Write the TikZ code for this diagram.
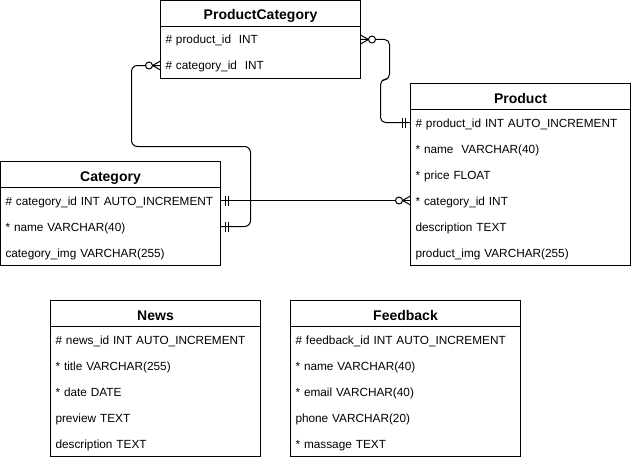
\documentclass[tikz,border=0pt]{standalone}
\usepackage{fontspec}
\setmainfont{Liberation Sans}
\usetikzlibrary{positioning}

\tikzset{
    entity/.style={draw, anchor=north west, minimum width=#1, minimum height=26pt,
        inner sep=0pt, outer sep=0pt, text height=13.5pt, text depth=0.5pt,
        font=\fontsize{14}{16}\selectfont\bfseries},
    attr/.style={text width=#1-10pt, minimum height=26pt, inner xsep=5pt, inner ysep=0pt,
        outer sep=0pt, text height=10.5pt, text depth=1.5pt, align=left,
        font=\fontsize{11.8}{14}\selectfont},
    mandone/.pic={\draw (5,-5) -- (5,5) (8,-5) -- (8,5);},
    zeromany/.pic={\draw (0,-4.5) -- (8,0) -- (0,4.5); \draw[fill=white] (11.5,0) circle[radius=3.5pt];}
}

\begin{document}
\begin{tikzpicture}[x=1pt, y=-1pt, line width=1pt]

\def\pcw{200pt}
\def\pw{220pt}
\def\cw{220pt}
\def\nw{210pt}
\def\fw{230pt}

\useasboundingbox (0,0) rectangle (631,460);

% ProductCategory
\node[entity=\pcw] (pc) at (160.5, 0.5) {ProductCategory};
\node[attr=\pcw, below=0pt of pc] (pc-product) {\#~product\_id\ \ INT};
\node[attr=\pcw, below=0pt of pc-product] (pc-category) {\#~category\_id\ \ INT};
\draw (pc.north west) rectangle (pc-category.south east);

% Product
\node[entity=\pw] (p) at (410.5, 83.5) {Product};
\node[attr=\pw, below=0pt of p] (p-id) {\#~product\_id~INT~AUTO\_INCREMENT};
\node[attr=\pw, below=0pt of p-id] (p-name) {*~name\ \ VARCHAR(40)};
\node[attr=\pw, below=0pt of p-name] (p-price) {*~price FLOAT};
\node[attr=\pw, below=0pt of p-price] (p-category) {*~category\_id INT};
\node[attr=\pw, below=0pt of p-category] (p-desc) {description TEXT};
\node[attr=\pw, below=0pt of p-desc] (p-img) {product\_img VARCHAR(255)};
\draw (p.north west) rectangle (p-img.south east);

% Category
\node[entity=\cw] (c) at (0.5, 161.5) {Category};
\node[attr=\cw, below=0pt of c] (c-id) {\#~category\_id~INT~AUTO\_INCREMENT};
\node[attr=\cw, below=0pt of c-id] (c-name) {*~name VARCHAR(40)};
\node[attr=\cw, below=0pt of c-name] (c-img) {category\_img VARCHAR(255)};
\draw (c.north west) rectangle (c-img.south east);

% News
\node[entity=\nw] (n) at (50.5, 300.5) {News};
\node[attr=\nw, below=0pt of n] (n-id) {\#~news\_id~INT~AUTO\_INCREMENT};
\node[attr=\nw, below=0pt of n-id] (n-title) {*~title VARCHAR(255)};
\node[attr=\nw, below=0pt of n-title] (n-date) {*~date DATE};
\node[attr=\nw, below=0pt of n-date] (n-preview) {preview TEXT};
\node[attr=\nw, below=0pt of n-preview] (n-desc) {description TEXT};
\draw (n.north west) rectangle (n-desc.south east);

% Feedback
\node[entity=\fw] (f) at (290.5, 300.5) {Feedback};
\node[attr=\fw, below=0pt of f] (f-id) {\#~feedback\_id~INT~AUTO\_INCREMENT};
\node[attr=\fw, below=0pt of f-id] (f-name) {*~name VARCHAR(40)};
\node[attr=\fw, below=0pt of f-name] (f-email) {*~email VARCHAR(40)};
\node[attr=\fw, below=0pt of f-email] (f-phone) {phone VARCHAR(20)};
\node[attr=\fw, below=0pt of f-phone] (f-massage) {*~massage TEXT};
\draw (f.north west) rectangle (f-massage.south east);

% relations
\draw[rounded corners=5pt] (pc-product.east) -- ++(29,0) -- ++(0,40) -- ++(-9,0) |- (p-id.west);
\draw[rounded corners=6pt] (c-name.east) -- ++(30,0) -- ++(0,-80) -| ([xshift=-29pt]pc-category.west) -- (pc-category.west);
\draw (c-id.east) -- (p-category.west);

\pic at (pc-product.east) {zeromany};
\pic[rotate=180] at (p-id.west) {mandone};
\pic at (c-name.east) {mandone};
\pic[rotate=180] at (pc-category.west) {zeromany};
\pic at (c-id.east) {mandone};
\pic[rotate=180] at (p-category.west) {zeromany};

\end{tikzpicture}
\end{document}
